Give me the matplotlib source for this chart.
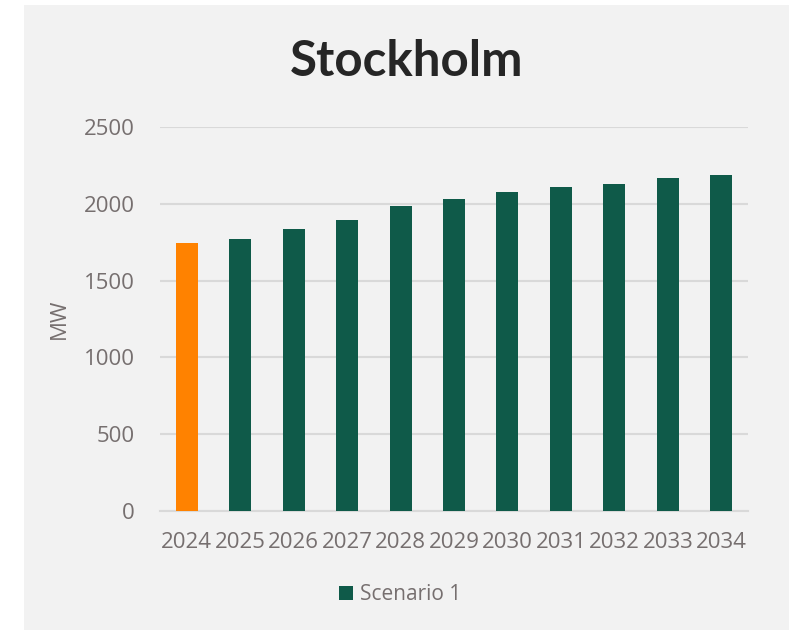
import matplotlib
matplotlib.use("Agg")
import matplotlib.pyplot as plt
from matplotlib.patches import Rectangle

# 数据
years = ['2024', '2025', '2026', '2027', '2028', '2029', '2030', '2031', '2032', '2033', '2034']
scenario_1 = [1745, 1769, 1834, 1893, 1984, 2031, 2077, 2109, 2127, 2166, 2190]
y_ticks = [0, 500, 1000, 1500, 2000, 2500]

green = '#0f5a49'
orange = '#ff8200'
text_grey = '#766f6f'
bg = '#f2f2f2'

plt.rcParams['font.family'] = ['Open Sans', 'DejaVu Sans']

fig = plt.figure(figsize=(7.95, 6.34), dpi=100)
fig.patch.set_facecolor('white')
# 灰色背景框
fig.patches.append(Rectangle((24 / 795, 1 - 630 / 634), 765 / 795, 625 / 634,
                             transform=fig.transFigure, facecolor=bg,
                             edgecolor='none', zorder=-10))

ax = fig.add_axes([160 / 795, 1 - 511 / 634, 588 / 795, 384 / 634])
ax.set_facecolor('none')
ax.set_zorder(5)

colors = [orange] + [green] * (len(years) - 1)
x = range(len(years))
ax.bar(x, scenario_1, width=0.41, color=colors, zorder=3)
# 图例只显示 Scenario 1
ax.bar([0], [0], width=0, color=green, label='Scenario 1')

ax.set_xlim(-0.5, len(years) - 0.5)
ax.set_ylim(0, 2500)
ax.set_yticks(y_ticks)
ax.set_xticks(list(x))
ax.set_xticklabels(years)
ax.grid(axis='y', color='#d9d9d9', linewidth=1.5, zorder=0)
ax.tick_params(axis='both', length=0, labelsize=16, labelcolor=text_grey)
ax.tick_params(axis='x', pad=15)
ax.tick_params(axis='y', pad=18)
for s in ['top', 'right', 'left']:
    ax.spines[s].set_visible(False)
ax.spines['bottom'].set_color('#d9d9d9')
ax.spines['bottom'].set_linewidth(1.5)

ax.set_ylabel('MW', fontsize=16, color=text_grey, labelpad=10)

fig.text(407 / 795, 1 - 62 / 634, 'Stockholm', ha='center', va='center',
         fontsize=35.5, fontweight='bold', color='#262626',
         family=['Lato', 'DejaVu Sans'])

leg = ax.legend(loc='center', bbox_to_anchor=(400 / 795, 1 - 595 / 634),
                bbox_transform=fig.transFigure, frameon=False, fontsize=15,
                handlelength=0.65, handleheight=0.65, handletextpad=0.35)
for t in leg.get_texts():
    t.set_color(text_grey)

fig.savefig('out.png', dpi=100, facecolor=fig.get_facecolor())
